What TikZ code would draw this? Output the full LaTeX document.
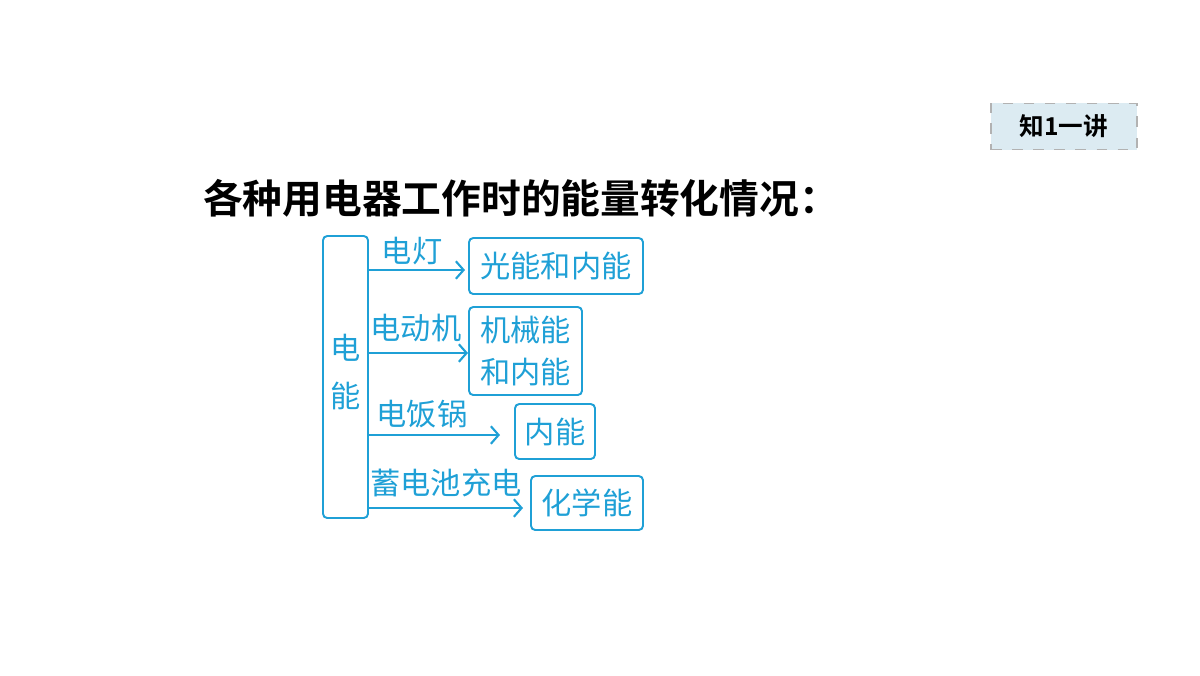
\documentclass[tikz,border=0pt]{standalone}
\usetikzlibrary{arrows.meta}
\usepackage{fontspec}
\newfontfamily\cjk{Noto Sans CJK SC}
\newfontfamily\cjkb{Noto Sans CJK SC Bold}
\definecolor{bl}{HTML}{1FA0D6}
\definecolor{tagfill}{HTML}{DCEBF2}
\begin{document}
\begin{tikzpicture}[x=0.01cm,y=-0.01cm,
  bx/.style={draw=bl,line width=0.55pt,rounded corners=1.2pt,inner sep=0pt},
  lbl/.style={text=bl,font=\cjk\fontsize{8.6pt}{10.5pt}\selectfont,inner sep=0pt},
  arr/.style={draw=bl,line width=0.6pt,-{Straight Barb[length=2.2pt,width=5pt]}}]
\useasboundingbox (0,0) rectangle (1200,675);
\node[draw=gray!60,dashed,fill=tagfill,minimum width=146*0.01cm,minimum height=35*0.01cm,font=\cjkb\fontsize{7pt}{8pt}\selectfont] (tag) at (1064,126.5) {知1一讲};
\node[font=\cjkb\fontsize{11.3pt}{13pt}\selectfont,inner sep=0pt] (title) at (521,198) {各种用电器工作时的能量转化情况：};
\node[bx,minimum width=45*0.01cm,minimum height=282*0.01cm] (src) at (345.5,377) {};
\node[lbl,align=center] (srct) at (345.5,372) {电\\[0.35em]能};
\node[bx,lbl,minimum width=174*0.01cm,minimum height=56*0.01cm] (b1) at (556,266) {光能和内能};
\node[bx,lbl,minimum width=113*0.01cm,minimum height=88*0.01cm,align=center] (b2) at (525.5,351) {机械能\\[0.2em]和内能};
\node[bx,lbl,minimum width=80*0.01cm,minimum height=55*0.01cm] (b3) at (555,431.5) {内能};
\node[bx,lbl,minimum width=112*0.01cm,minimum height=54*0.01cm] (b4) at (587,503) {化学能};
\coordinate (e1) at (465,270); \coordinate (e2) at (468,353);
\coordinate (e3) at (500,435); \coordinate (e4) at (523,508);
\draw[arr] (src.east |- e1) -- (e1);
\draw[arr] (src.east |- e2) -- (e2);
\draw[arr] (src.east |- e3) -- (e3);
\draw[arr] (src.east |- e4) -- (e4);
\node[lbl] (l1) at (412,251) {电灯};
\node[lbl] (l2) at (416,328) {电动机};
\node[lbl] (l3) at (422,414) {电饭锅};
\node[lbl] (l4) at (446,483) {蓄电池充电};
\end{tikzpicture}
\end{document}
